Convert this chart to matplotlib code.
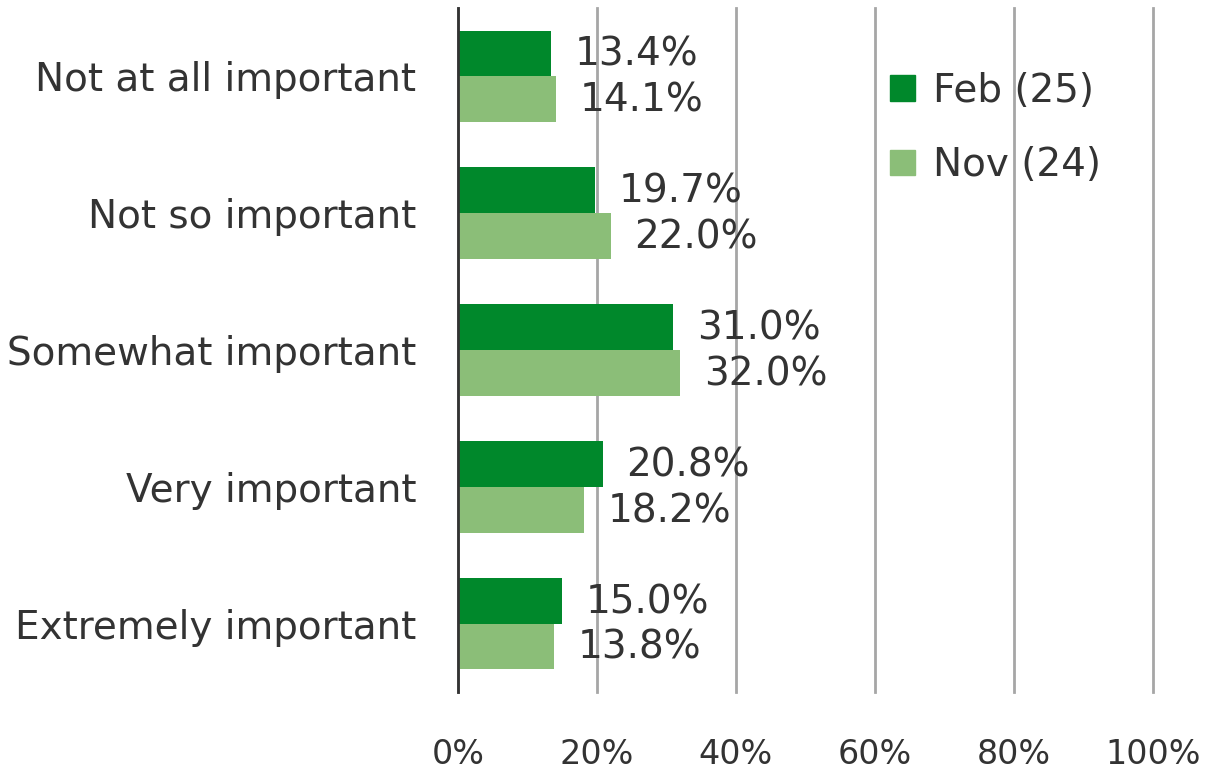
import matplotlib
matplotlib.use("Agg")
import matplotlib.pyplot as plt
from matplotlib.patches import Patch
import numpy as np

categories = ["Not at all important", "Not so important", "Somewhat important",
              "Very important", "Extremely important"]
feb25 = [13.4, 19.7, 31.0, 20.8, 15.0]
nov24 = [14.1, 22.0, 32.0, 18.2, 13.8]
series_names = ["Feb (25)", "Nov (24)"]
xticks = [0, 20, 40, 60, 80, 100]
xtick_labels = ["0%", "20%", "40%", "60%", "80%", "100%"]

c_feb = "#00882B"
c_nov = "#8BBE78"
txt = "#333333"
FS = 28
FAM = ["DejaVu Sans"]

fig = plt.figure(figsize=(12.2, 7.76), dpi=100)
ax = fig.add_axes([458/1220, 1-692/776, (1153-458)/1220, (692-8)/776])

n = len(categories)
y = np.arange(n)
h = 0.335
ax.barh(y - h/2, feb25, height=h, color=c_feb, zorder=3)
ax.barh(y + h/2, nov24, height=h, color=c_nov, zorder=3)

for i in range(n):
    ax.annotate(f"{feb25[i]:.1f}%", (feb25[i], y[i] - h/2), xytext=(17, -1),
                textcoords="offset points", va="center", ha="left",
                fontsize=FS, color=txt, family=FAM, zorder=4)
    ax.annotate(f"{nov24[i]:.1f}%", (nov24[i], y[i] + h/2), xytext=(17, -1),
                textcoords="offset points", va="center", ha="left",
                fontsize=FS, color=txt, family=FAM, zorder=4)

ax.set_xlim(0, 100)
ax.set_ylim(n - 0.5, -0.5)
ax.set_yticks(y)
ax.set_yticklabels(categories, fontsize=FS, color=txt, family=FAM)
ax.set_xticks(xticks)
ax.set_xticklabels(xtick_labels, fontsize=24, color=txt, family=FAM)
ax.tick_params(axis="x", length=0, pad=33)
ax.tick_params(axis="y", length=0, pad=30)
ax.grid(axis="x", color="#A6A6A6", linewidth=2, zorder=0)
for gl in ax.get_xgridlines():
    gl.set_clip_on(False)
for s in ["top", "right", "bottom"]:
    ax.spines[s].set_visible(False)
ax.spines["left"].set_color("#333333")
ax.spines["left"].set_linewidth(2)
ax.spines["left"].set_zorder(5)

handles = [Patch(color=c_feb), Patch(color=c_nov)]
leg = ax.legend(handles, series_names, loc="upper left",
                bbox_to_anchor=(890/1220, 1-72/776), bbox_transform=fig.transFigure,
                frameon=False, handlelength=0.65, handleheight=0.65,
                handletextpad=0.45, labelspacing=0.93, borderpad=0, borderaxespad=0,
                prop={"family": FAM, "size": FS})
for t in leg.get_texts():
    t.set_color(txt)

fig.savefig("out.png", dpi=100)
